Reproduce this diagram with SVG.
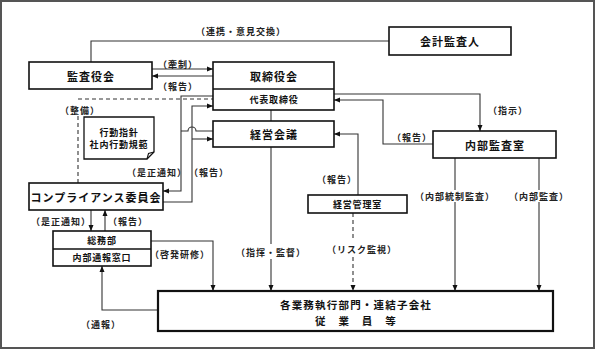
<svg xmlns="http://www.w3.org/2000/svg" width="596" height="350" viewBox="0 0 596 350">
<style>
.box{fill:#fff;stroke:#111;stroke-width:1.6}
.t{font-family:"Noto Sans CJK JP","Noto Sans",sans-serif;font-weight:bold;font-size:11px;letter-spacing:1px;text-anchor:middle;dominant-baseline:central;fill:#111}
.s{font-size:9px;letter-spacing:0.8px}
.g{font-size:10.5px;letter-spacing:1.2px}
.l{font-family:"Noto Sans CJK JP","Noto Sans",sans-serif;font-weight:bold;font-size:9px;letter-spacing:1px;text-anchor:middle;dominant-baseline:central;fill:#222}
.c{fill:none;stroke:#333;stroke-width:1.1}
.d{fill:none;stroke:#333;stroke-width:1.1;stroke-dasharray:4,3}
.a{marker-end:url(#ah)}
</style>
<defs>
<marker id="ah" markerUnits="userSpaceOnUse" markerWidth="6" markerHeight="6" refX="6" refY="3" orient="auto">
<path d="M0,0.5 L6,3 L0,5.5 z" fill="#111"/>
</marker>
</defs>
<rect x="1" y="1" width="593" height="347" fill="#fff" stroke="#555" stroke-width="2"/>

<g id="connectors">
<path class="c" d="M91,62 V41 H389"/>
<path class="c a" d="M152,69 H213"/>
<path class="c a" d="M213,76 H152"/>
<path class="d" d="M78,99 H213"/>
<path class="d" d="M78,116 V183"/>
<path class="c a" d="M213,96 H181 V191 H163"/>
<path class="c" d="M213,131 H196 A4,4 0 0 0 188,131 H181"/>
<path class="c a" d="M163,202 H192 V106 H213"/>
<path class="c a" d="M192,139 H213"/>
<path class="c" d="M271,110 V121"/>
<path class="c" d="M271,147 V244"/>
<path class="c a" d="M271,259 V291"/>
<path class="c a" d="M334,94 H480 V131"/>
<path class="c a" d="M433,144 H383 V100 H334"/>
<path class="c a" d="M358,195 V134 H334"/>
<path class="d" d="M353,213 V241"/>
<path class="d a" d="M353,257 V291"/>
<path class="c" d="M455,158 V190"/>
<path class="c a" d="M455,202 V291"/>
<path class="c" d="M539,158 V190"/>
<path class="c a" d="M539,202 V291"/>
<path class="c a" d="M91,210 V231"/>
<path class="c a" d="M105,231 V210"/>
<path class="c a" d="M151,241 H213 V291"/>
<path class="c a" d="M158,310 H102 V266"/>
</g>

<g id="labels">
<text class="l" x="241" y="31">（連携・意見交換）</text>
<text class="l" x="178" y="64">（牽制）</text>
<text class="l" x="178" y="86">（報告）</text>
<text class="l" x="80" y="110">（整備）</text>
<text class="l" x="157" y="172">（是正通知）</text>
<text class="l" x="209" y="172">（報告）</text>
<text class="l" x="508" y="110">（指示）</text>
<text class="l" x="412" y="137">（報告）</text>
<text class="l" x="337" y="179">（報告）</text>
<text class="l" x="455" y="196">（内部統制監査）</text>
<text class="l" x="539" y="196">（内部監査）</text>
<text class="l" x="61" y="221">（是正通知）</text>
<text class="l" x="128" y="221">（報告）</text>
<text class="l" x="271" y="252">（指揮・監督）</text>
<text class="l" x="362" y="249">（リスク監視）</text>
<text class="l" x="180" y="254">（啓発研修）</text>
<text class="l" x="101" y="324">（通報）</text>
</g>

<g id="kaikei">
<rect class="box" x="389" y="27" width="122" height="28"/>
<text class="t" x="450" y="41">会計監査人</text>
</g>
<g id="kansayaku">
<rect class="box" x="29" y="62" width="123" height="27"/>
<text class="t" x="91" y="75.5">監査役会</text>
</g>
<g id="torishimariyaku">
<rect class="box" x="213" y="62" width="121" height="48"/>
<line x1="213" y1="89" x2="334" y2="89" stroke="#111" stroke-width="1.6"/>
<text class="t" x="274" y="75.5">取締役会</text>
<text class="t s" x="274" y="99.5">代表取締役</text>
</g>
<g id="keiei">
<rect class="box" x="213" y="121" width="121" height="26"/>
<text class="t" x="274" y="134">経営会議</text>
</g>
<g id="naibu">
<rect class="box" x="433" y="131" width="123" height="27"/>
<text class="t" x="495" y="144.5">内部監査室</text>
</g>
<g id="kodo">
<path d="M84,117 H154 V152 L147,159 H84 Z" fill="#fff" stroke="#111" stroke-width="1.3"/>
<path d="M147,159 L148.5,153.5 L154,152" fill="none" stroke="#111" stroke-width="1.1"/>
<text class="t s" x="119" y="132">行動指針</text>
<text class="t s" x="119" y="144">社内行動規範</text>
</g>
<g id="compliance">
<rect class="box" x="29" y="183" width="134" height="27"/>
<text class="t" x="96" y="196.5">コンプライアンス委員会</text>
</g>
<g id="keieikanri">
<rect class="box" x="308" y="195" width="99" height="18"/>
<text class="t s" x="357.5" y="204">経営管理室</text>
</g>
<g id="somu">
<rect class="box" x="53" y="231" width="98" height="35"/>
<line x1="53" y1="249" x2="151" y2="249" stroke="#111" stroke-width="1.6"/>
<text class="t s" x="102" y="240">総務部</text>
<text class="t s" x="102" y="257.5">内部通報窓口</text>
</g>
<g id="gyomu">
<rect x="158" y="291" width="395" height="40" fill="#fff" stroke="#111" stroke-width="2.2"/>
<text class="t g" x="356" y="304">各業務執行部門・連結子会社</text>
<text class="t g" x="356" y="320">従　業　員　等</text>
</g>
</svg>
